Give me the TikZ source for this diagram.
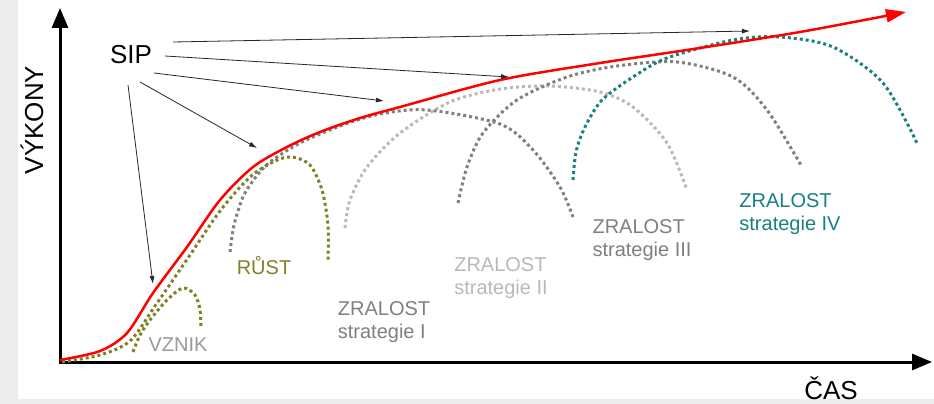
\documentclass[tikz,border=0pt]{standalone}
\usepackage{fontspec}
\setmainfont{Liberation Sans}
\usetikzlibrary{arrows.meta}
\definecolor{olivedot}{RGB}{128,128,40}
\definecolor{darkdot}{RGB}{128,128,128}
\definecolor{lightdot}{RGB}{185,185,185}
\definecolor{tealdot}{RGB}{25,128,128}
\definecolor{bgstrip}{RGB}{236,236,236}
\tikzset{
  dotline/.style={line width=3pt, dash pattern=on 3pt off 3pt},
  axisline/.style={line width=3pt, -{Triangle[length=20pt,width=16pt]}},
  siparrow/.style={line width=0.8pt, draw=black!85, -{Latex[length=8pt,width=5pt]}},
  lbl/.style={font=\fontsize{20}{23}\selectfont, align=left, inner sep=0pt},
}
\begin{document}
\begin{tikzpicture}[x=1pt,y=-1pt]
\useasboundingbox (0,0) rectangle (934,404);
\fill[bgstrip] (0,0) rectangle (934,404);
\fill[white] (18,0) rectangle (934,399);

% axes
\coordinate (o) at (60,362);
\coordinate (ytop) at (60,8);
\coordinate (xend) at (932,362);
\draw[axisline] (60,363.5) -- (ytop);
\draw[axisline] (58.5,362) -- (xend);

% maturity arcs
\draw[dotline, lightdot] plot[smooth] coordinates {(345,228) (350,200) (367,167) (400,133) (450,102) (500,89) (550,86) (600,92) (633,107) (667,143) (687,190)};
\draw[dotline, darkdot] plot[smooth] coordinates {(230,252) (234,225) (243,197) (255,178) (270,162) (300,143) (340,126) (380,114) (427,110) (500,124) (533,150) (560,187) (573,217)};
\draw[dotline, darkdot] plot[smooth] coordinates {(458,203) (467,167) (483,133) (517,100) (567,77) (617,66) (677,62) (733,77) (767,110) (802,167)};
\draw[dotline, tealdot] plot[smooth] coordinates {(573,180) (576,152) (585,127) (602,100) (633,77) (667,58) (733,40) (780,37) (833,47) (883,83) (917,143)};

% growth and birth
\draw[dotline, olivedot] plot[smooth] coordinates {(62,362) (100,355) (130,341) (155,306) (188,258) (220,211) (250,177) (275,161) (292,157) (310,165) (322,190) (328,225) (328,260)};
\draw[dotline, olivedot] plot[smooth] coordinates {(133,352) (140,335) (150,320) (167,300) (183,288) (195,295) (200,310) (201,328)};

% red envelope
\draw[red, line width=2.5pt, -{Triangle[length=20pt,width=13pt]}] plot[smooth] coordinates {(60,360) (100,351) (127,333) (153,293) (187,247) (220,200) (253,167) (287,147) (320,132) (360,118) (400,107) (500,80) (600,63) (700,48) (800,32) (906,12)};

% labels
\node[font=\fontsize{26}{28}\selectfont, inner sep=0pt] (sip) at (131,55) {SIP};
\node[font=\fontsize{26}{28}\selectfont, inner sep=0pt, rotate=90] (vyk) at (32,120) {VÝKONY};
\node[font=\fontsize{26}{28}\selectfont, inner sep=0pt, anchor=base] (cas) at (831,399) {ČAS};
\node[lbl, text=darkdot!80] (vznik) at (178,345) {VZNIK};
\node[lbl, text=olivedot] (rust) at (264,266) {RŮST};
\node[lbl, text=darkdot] (z1) at (384,322) {ZRALOST\\strategie I};
\node[lbl, text=lightdot] (z2) at (501,278) {ZRALOST\\strategie II};
\node[lbl, text=darkdot] (z3) at (642,240) {ZRALOST\\strategie III};
\node[lbl, text=tealdot] (z4) at (790,214) {ZRALOST\\strategie IV};

% SIP arrows
\coordinate (s1) at (173,42);
\coordinate (t1) at (750,31);
\coordinate (s2) at (165,56);
\coordinate (t2) at (509,77);
\coordinate (s3) at (154,73);
\coordinate (t3) at (384,101);
\coordinate (s4) at (140,82);
\coordinate (t4) at (257,148);
\coordinate (s5) at (128,85);
\coordinate (t5) at (153,284);
\draw[siparrow] (s1) -- (t1);
\draw[siparrow] (s2) -- (t2);
\draw[siparrow] (s3) -- (t3);
\draw[siparrow] (s4) -- (t4);
\draw[siparrow] (s5) -- (t5);
\end{tikzpicture}
\end{document}
